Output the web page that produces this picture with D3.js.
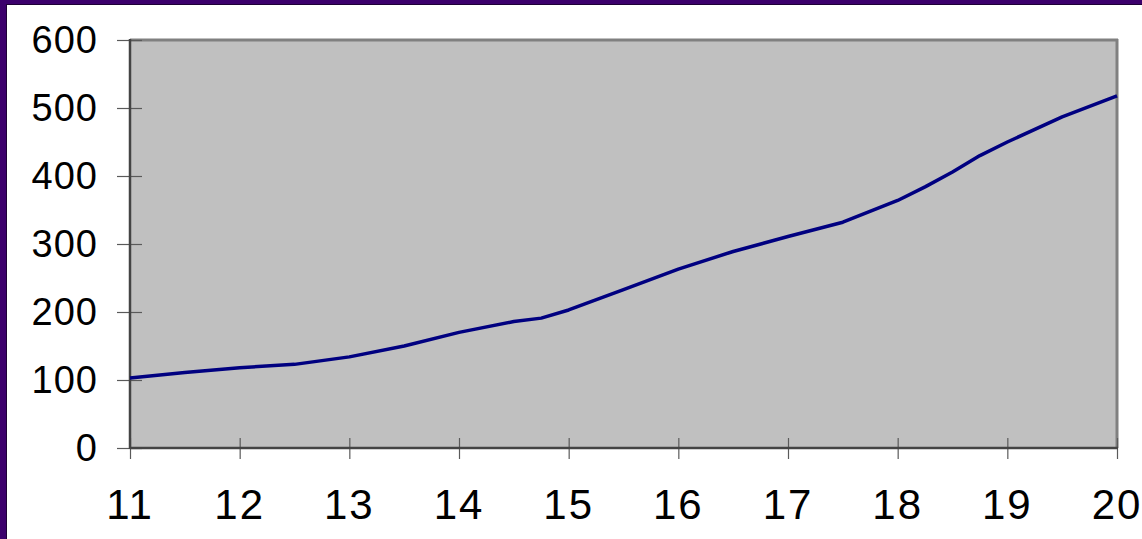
<!DOCTYPE html>
<html>
<head>
<meta charset="utf-8">
<script src="https://cdn.jsdelivr.net/npm/d3@7"></script>
<style>
  html, body { margin: 0; padding: 0; background: #ffffff; }
  svg { display: block; }
</style>
</head>
<body>
<svg id="chart" width="1142" height="539"></svg>
<script>
// Series: x position (age) and value
const xValues = [11, 11.5, 12, 12.5, 13, 13.5, 14, 14.5, 14.75, 15, 15.5, 16, 16.5, 17, 17.5, 18, 18.25, 18.5, 18.75, 19, 19.5, 20];
const yValues = [103, 111, 118, 123, 134, 150, 170, 186, 191, 203, 233, 263, 289, 311, 332, 364, 384, 406, 430, 450, 487, 518];

// Axis tick labels
const xTicks = [11, 12, 13, 14, 15, 16, 17, 18, 19, 20];
const yTicks = [0, 100, 200, 300, 400, 500, 600];

const W = 1142, H = 539;
const plot = { left: 130, right: 1117, top: 40, bottom: 448 };

const svg = d3.select("#chart");

// Slide frame: purple bands along the top and left edges
svg.append("rect").attr("x", 0).attr("y", 0).attr("width", W).attr("height", 4).attr("fill", "#3c006c");
svg.append("rect").attr("x", 0).attr("y", 4).attr("width", W).attr("height", 1).attr("fill", "#1e0036");
svg.append("rect").attr("x", 0).attr("y", 0).attr("width", 6).attr("height", H).attr("fill", "#3c006c");
svg.append("rect").attr("x", 6).attr("y", 4).attr("width", 1).attr("height", H).attr("fill", "#1e0036");

const x = d3.scaleLinear().domain([11, 20]).range([plot.left, plot.right]);
const y = d3.scaleLinear().domain([0, 600]).range([plot.bottom, plot.top]);

// Plot area
svg.append("rect")
  .attr("x", plot.left).attr("y", plot.top)
  .attr("width", plot.right - plot.left).attr("height", plot.bottom - plot.top)
  .attr("fill", "#c0c0c0");

// Top and right frame edges
svg.append("line").attr("x1", plot.left).attr("x2", plot.right + 1)
  .attr("y1", plot.top).attr("y2", plot.top)
  .attr("stroke", "#808080").attr("stroke-width", 3);
svg.append("line").attr("x1", plot.right).attr("x2", plot.right)
  .attr("y1", plot.top - 1).attr("y2", plot.bottom)
  .attr("stroke", "#808080").attr("stroke-width", 3);

// Y axis: crossing ticks
const yAxis = d3.axisLeft(y).tickValues(yTicks).tickSizeOuter(0).tickFormat("");
const yg = svg.append("g").attr("transform", `translate(${plot.left},0)`).call(yAxis);
yg.select(".domain").remove();
yg.selectAll(".tick line")
  .attr("x1", -13).attr("x2", 12)
  .attr("stroke", "#5a5a5a").attr("stroke-width", 1.2);

// X axis: crossing ticks
const xAxis = d3.axisBottom(x).tickValues(xTicks).tickSizeOuter(0).tickFormat("");
const xg = svg.append("g").attr("transform", `translate(0,${plot.bottom})`).call(xAxis);
xg.select(".domain").remove();
xg.selectAll(".tick line")
  .attr("y1", -10).attr("y2", 11)
  .attr("stroke", "#5a5a5a").attr("stroke-width", 1.2);

// Axis lines
svg.append("line").attr("x1", plot.left).attr("x2", plot.left)
  .attr("y1", plot.top - 1).attr("y2", plot.bottom + 1)
  .attr("stroke", "#444444").attr("stroke-width", 2.5);
svg.append("line").attr("x1", plot.left).attr("x2", plot.right + 1)
  .attr("y1", plot.bottom).attr("y2", plot.bottom)
  .attr("stroke", "#444444").attr("stroke-width", 2.5);

// Tick labels
svg.append("g").selectAll("text").data(yTicks).join("text")
  .attr("x", 98).attr("y", d => y(d))
  .attr("dy", "0.35em")
  .attr("text-anchor", "end")
  .attr("font-family", "Liberation Sans, Arial, sans-serif")
  .attr("font-size", 38)
  .attr("letter-spacing", 1)
  .attr("fill", "#000")
  .text(d => d);

svg.append("g").selectAll("text").data(xTicks).join("text")
  .attr("x", d => x(d)).attr("y", 519)
  .attr("text-anchor", "middle")
  .attr("font-family", "Liberation Sans, Arial, sans-serif")
  .attr("font-size", 42)
  .attr("letter-spacing", 2)
  .attr("fill", "#000")
  .text(d => d);

// Data line
const line = d3.line()
  .x((d, i) => x(xValues[i]))
  .y(d => y(d));

svg.append("path")
  .datum(yValues)
  .attr("d", line)
  .attr("fill", "none")
  .attr("stroke", "#000080")
  .attr("stroke-width", 3.5)
  .attr("stroke-linejoin", "round");
</script>
</body>
</html>
